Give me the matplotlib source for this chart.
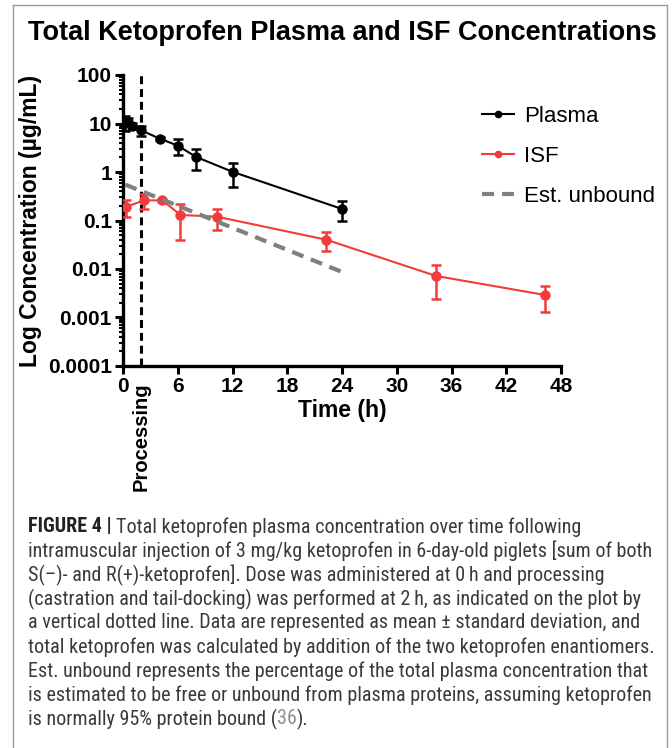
import matplotlib
matplotlib.use("Agg")
import matplotlib.pyplot as plt
import matplotlib.transforms as mtransforms
from matplotlib.lines import Line2D
from matplotlib import font_manager
from matplotlib.ticker import LogLocator, FixedLocator, FixedFormatter, NullFormatter

# ---- data ----
plasma_t = [0.25, 0.5, 1, 2, 4, 6, 8, 12, 24]
plasma_mean = [10.5, 10.8, 9.0, 7.2, 4.9, 3.5, 2.05, 1.01, 0.173]
plasma_sd = [3.5, 2.0, 1.2, 1.6, 0.4, 1.25, 0.95, 0.53, 0.075]

isf_t = [0.3, 2.3, 4.3, 6.3, 10.3, 22.3, 34.3, 46.3]
isf_mean = [0.19, 0.26, 0.26, 0.13, 0.12, 0.04, 0.0072, 0.0029]
isf_sd = [0.07, 0.09, 0.02, 0.09, 0.055, 0.017, 0.0048, 0.0016]

unbound_t = [0.25, 24]
unbound_conc = [0.55, 0.0087]

processing_time = 2
x_ticks = [0, 6, 12, 18, 24, 30, 36, 42, 48]
y_ticks = [1e-4, 1e-3, 1e-2, 1e-1, 1, 10, 100]
y_tick_labels = ["0.0001", "0.001", "0.01", "0.1", "1", "10", "100"]

caption_lines = [
    "intramuscular injection of 3 mg/kg ketoprofen in 6-day-old piglets [sum of both",
    "S(\u2013)- and R(+)-ketoprofen]. Dose was administered at 0\u2009h and processing",
    "(castration and tail-docking) was performed at 2\u2009h, as indicated on the plot by",
    "a vertical dotted line. Data are represented as mean \u00b1 standard deviation, and",
    "total ketoprofen was calculated by addition of the two ketoprofen enantiomers.",
    "Est. unbound represents the percentage of the total plasma concentration that",
    "is estimated to be free or unbound from plasma proteins, assuming ketoprofen",
]

# ---- fonts ----
installed = {f.name for f in font_manager.fontManager.ttflist}
cap_font = "Liberation Sans"
for name in ["Liberation Sans Narrow", "Roboto Condensed", "Liberation Sans"]:
    if name in installed:
        cap_font = name
        break
plt.rcParams['font.family'] = ['Liberation Sans', 'DejaVu Sans']

W, H = 672, 748
fig = plt.figure(figsize=(W / 100, H / 100), dpi=100)
ax = fig.add_axes([123 / W, 1 - 366 / H, (561 - 123) / W, (366 - 75) / H])

red = '#f23c3c'
gray = '#808080'

ax.axvline(processing_time, color='black', lw=2.2, ls=(0, (2.6, 1.6)), zorder=1)

ax.errorbar(plasma_t, plasma_mean, yerr=plasma_sd, color='black', marker='o',
            markersize=6.5, lw=1.5, elinewidth=1.8, capsize=3.5, capthick=1.8, zorder=3)
ax.errorbar(isf_t, isf_mean, yerr=isf_sd, color=red, marker='o',
            markersize=6.5, lw=1.5, elinewidth=1.8, capsize=3.5, capthick=1.8, zorder=3)
ax.plot(unbound_t, unbound_conc, color=gray, lw=3, ls=(0, (2.9, 1.9)), zorder=4)

ax.set_yscale('log')
ax.set_ylim(1e-4, 100)
ax.set_xlim(0, 48)
ax.yaxis.set_major_locator(FixedLocator(y_ticks))
ax.yaxis.set_major_formatter(FixedFormatter(y_tick_labels))
ax.yaxis.set_minor_locator(LogLocator(base=10, subs=range(2, 10)))
ax.yaxis.set_minor_formatter(NullFormatter())
ax.set_xticks(x_ticks)

for s in ['top', 'right']:
    ax.spines[s].set_visible(False)
for s in ['left', 'bottom']:
    ax.spines[s].set_linewidth(2.4)
ax.tick_params(which='major', length=6, width=2.2, labelsize=15, pad=2)
ax.tick_params(which='minor', length=3, width=1.5)
for lab in ax.get_xticklabels() + ax.get_yticklabels():
    lab.set_fontweight('bold')

ax.set_xlabel('Time (h)', fontsize=16.5, fontweight='bold', labelpad=2)
ax.set_ylabel('Log Concentration (\u00b5g/mL)', fontsize=16.5, fontweight='bold', labelpad=4)

trans = mtransforms.blended_transform_factory(ax.transData, fig.transFigure)
ax.text(processing_time, 1 - 382 / H, 'Processing', transform=trans, rotation=90,
        ha='center', va='top', fontsize=14.5, fontweight='bold')

handles = [
    Line2D([], [], color='black', marker='o', markersize=4.5, lw=1.5),
    Line2D([], [], color=red, marker='o', markersize=4.5, lw=1.5),
    Line2D([], [], color=gray, lw=3, ls=(0, (2.9, 1.9))),
]
ax.legend(handles, ['Plasma', 'ISF', 'Est. unbound'], loc='upper left',
          bbox_to_anchor=(482 / W, 1 - 106 / H), bbox_transform=fig.transFigure,
          frameon=False, fontsize=16, handlelength=1.45, handletextpad=0.45,
          labelspacing=0.85, borderaxespad=0, borderpad=0)

fig.text(342 / W, 1 - 33 / H, 'Total Ketoprofen Plasma and ISF Concentrations',
         ha='center', va='center', fontsize=19.5, fontweight='bold')

# frame around the figure panel
border = '#9a9a9a'
fig.add_artist(Line2D([13 / W, 13 / W], [0, 1 - 5 / H], transform=fig.transFigure, color=border, lw=1))
fig.add_artist(Line2D([667 / W, 667 / W], [0, 1 - 5 / H], transform=fig.transFigure, color=border, lw=1))
fig.add_artist(Line2D([13 / W, 667 / W], [1 - 5 / H, 1 - 5 / H], transform=fig.transFigure, color=border, lw=1))

# caption
cap_color = '#3a3a3a'
cap_size = 14.5
x0 = 28 / W
y_first = 527
step = 24
renderer = fig.canvas.get_renderer()
t1 = fig.text(x0, 1 - y_first / H, 'FIGURE 4 | ', ha='left', va='center', fontsize=cap_size,
              fontweight='bold', color='#222222', family=cap_font)
bb = t1.get_window_extent(renderer)
fig.text(bb.x1 / W, 1 - y_first / H, 'Total ketoprofen plasma concentration over time following',
         ha='left', va='center', fontsize=cap_size, color=cap_color, family=cap_font)
for i, line in enumerate(caption_lines):
    fig.text(x0, 1 - (y_first + step * (i + 1)) / H, line, ha='left', va='center',
             fontsize=cap_size, color=cap_color, family=[cap_font, 'DejaVu Sans'])
y_last = 1 - (y_first + step * (len(caption_lines) + 1)) / H
t2 = fig.text(x0, y_last, 'is normally 95% protein bound (', ha='left', va='center',
              fontsize=cap_size, color=cap_color, family=cap_font)
bb = t2.get_window_extent(renderer)
t3 = fig.text(bb.x1 / W, y_last, '36', ha='left', va='center', fontsize=cap_size,
              color='#8a8f99', family=cap_font)
bb = t3.get_window_extent(renderer)
fig.text(bb.x1 / W, y_last, ').', ha='left', va='center', fontsize=cap_size,
         color=cap_color, family=cap_font)

fig.savefig('out.png', dpi=100)
